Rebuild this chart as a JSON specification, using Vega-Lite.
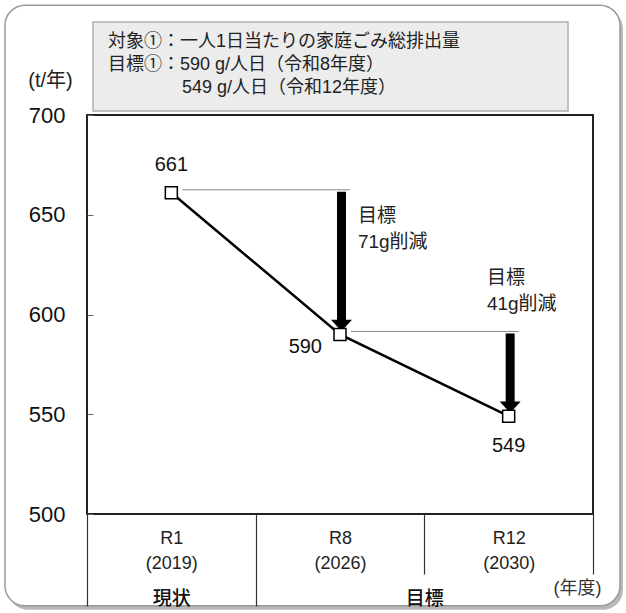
{
  "$schema": "https://vega.github.io/schema/vega-lite/v6.json",
  "width": 506,
  "height": 399,
  "autosize": {"type": "none"},
  "padding": {"left": 87, "top": 115, "right": 33, "bottom": 99},
  "background": "white",
  "config": {"view": {"stroke": null}},
  "datasets": {
    "pts": [
      {"year": "R1", "x": 1, "v": 661},
      {"year": "R8", "x": 2, "v": 590},
      {"year": "R12", "x": 3, "v": 549}
    ],
    "arrows": [
      {"x0": 1, "x": 2, "from": 661, "to": 590},
      {"x0": 2, "x": 3, "from": 590, "to": 549}
    ]
  },
  "data": {"name": "pts"},
  "resolve": {"axis": {"x": "independent", "y": "independent"}},
  "layer": [
    {
      "data": {"values": [{}]},
      "mark": {"type": "rect", "fill": "#b8b8b8", "cornerRadius": 20, "xOffset": 3, "x2Offset": 3, "yOffset": 4, "y2Offset": 4, "clip": false},
      "encoding": {
        "x": {"datum": 0.0138, "type": "quantitative", "scale": {"domain": [0.5, 3.5], "nice": false, "zero": false}, "axis": null},
        "x2": {"datum": 3.66},
        "y": {"datum": 755, "type": "quantitative", "scale": {"domain": [500, 700], "nice": false, "zero": false}, "axis": null},
        "y2": {"datum": 454}
      }
    },
    {
      "data": {"values": [{}]},
      "mark": {"type": "rect", "fill": "white", "stroke": "#9a9a9a", "strokeWidth": 1.5, "cornerRadius": 20, "clip": false},
      "encoding": {
        "x": {"datum": 0.0138, "type": "quantitative", "scale": {"domain": [0.5, 3.5], "nice": false, "zero": false}, "axis": null},
        "x2": {"datum": 3.66},
        "y": {"datum": 755, "type": "quantitative", "scale": {"domain": [500, 700], "nice": false, "zero": false}, "axis": null},
        "y2": {"datum": 454}
      }
    },
    {
      "data": {"values": [{}]},
      "mark": {"type": "rect", "fill": "#ececec", "stroke": "#b0b0b0", "strokeWidth": 1.5, "clip": false},
      "encoding": {
        "x": {"datum": 0.5356, "type": "quantitative", "scale": {"domain": [0.5, 3.5], "nice": false, "zero": false}, "axis": null},
        "x2": {"datum": 3.352},
        "y": {"datum": 746.6, "type": "quantitative", "scale": {"domain": [500, 700], "nice": false, "zero": false}, "axis": null},
        "y2": {"datum": 702}
      }
    },
    {
      "data": {"values": [{"t": ["対象①：一人1日当たりの家庭ごみ総排出量", "目標①：590 g/人日（令和8年度）"]}]},
      "mark": {"type": "text", "align": "left", "baseline": "middle", "fontSize": 18, "lineHeight": 23, "color": "#222", "font": "Liberation Sans, Noto Sans CJK JP, sans-serif", "clip": false},
      "encoding": {
        "x": {"datum": 0.6245, "type": "quantitative", "scale": {"domain": [0.5, 3.5], "nice": false, "zero": false}, "axis": null},
        "y": {"datum": 736.6, "type": "quantitative", "scale": {"domain": [500, 700], "nice": false, "zero": false}, "axis": null},
        "text": {"field": "t"}
      }
    },
    {
      "data": {"values": [{"t": "549 g/人日（令和12年度）"}]},
      "mark": {"type": "text", "align": "left", "baseline": "middle", "fontSize": 18, "color": "#222", "font": "Liberation Sans, Noto Sans CJK JP, sans-serif", "clip": false},
      "encoding": {
        "x": {"datum": 1.063, "type": "quantitative", "scale": {"domain": [0.5, 3.5], "nice": false, "zero": false}, "axis": null},
        "y": {"datum": 713.5, "type": "quantitative", "scale": {"domain": [500, 700], "nice": false, "zero": false}, "axis": null},
        "text": {"field": "t"}
      }
    },
    {
      "data": {"values": [{}]},
      "mark": {"type": "rect", "filled": false, "stroke": "#222", "strokeWidth": 2, "clip": false},
      "encoding": {
        "x": {"datum": 0.5, "type": "quantitative", "scale": {"domain": [0.5, 3.5], "nice": false, "zero": false}, "axis": null},
        "x2": {"datum": 3.5},
        "y": {"datum": 700, "type": "quantitative", "scale": {"domain": [500, 700], "nice": false, "zero": false}, "axis": null},
        "y2": {"datum": 500}
      }
    },
    {
      "data": {"name": "arrows"},
      "mark": {"type": "rule", "color": "#888", "strokeWidth": 1, "xOffset": 11, "x2Offset": 10, "yOffset": -3},
      "encoding": {
        "x": {"field": "x0", "type": "quantitative", "scale": {"domain": [0.5, 3.5], "nice": false, "zero": false}, "axis": null},
        "x2": {"field": "x"},
        "y": {"field": "from", "type": "quantitative", "scale": {"domain": [500, 700], "nice": false, "zero": false}, "axis": null}
      }
    },
    {
      "mark": {"type": "line", "color": "#000", "strokeWidth": 2.5},
      "encoding": {
        "x": {
          "field": "x", "type": "quantitative",
          "scale": {"domain": [0.5, 3.5], "nice": false, "zero": false},
          "axis": {
            "orient": "bottom", "values": [1, 2, 3],
            "labelExpr": "datum.value == 1 ? ['R1','(2019)'] : datum.value == 2 ? ['R8','(2026)'] : ['R12','(2030)']",
            "labelFontSize": 18, "labelLineHeight": 25, "labelPadding": 15,
            "labelFont": "Liberation Sans, Noto Sans CJK JP, sans-serif",
            "labelColor": "#222", "labelFlush": false, "labelOverlap": false,
            "ticks": false, "domain": false, "grid": false, "title": null, "zindex": 1
          }
        },
        "y": {
          "field": "v", "type": "quantitative",
          "scale": {"domain": [500, 700], "nice": false, "zero": false},
          "axis": {
            "orient": "left",
            "values": [500, 550, 600, 650, 700],
            "title": "(t/年)", "titleAngle": 0, "titleX": -37, "titleY": -35,
            "titleAlign": "center", "titleBaseline": "middle", "titleFontSize": 20,
            "titleFontWeight": "normal", "titleColor": "#222",
            "titleFont": "Liberation Sans, Noto Sans CJK JP, sans-serif",
            "labelFontSize": 22, "labelColor": "#111", "labelPadding": 28,
            "labelFont": "Liberation Sans, Noto Sans CJK JP, sans-serif",
            "tickSize": -6, "tickColor": "#666", "tickWidth": 1,
            "domain": false, "grid": false, "zindex": 1
          }
        }
      }
    },
    {
      "data": {"name": "arrows"},
      "mark": {"type": "rule", "color": "#000", "strokeWidth": 9, "strokeCap": "butt", "xOffset": 1.5, "x2Offset": 1.5, "yOffset": -1, "y2Offset": -14},
      "encoding": {
        "x": {"field": "x", "type": "quantitative", "scale": {"domain": [0.5, 3.5], "nice": false, "zero": false}, "axis": null},
        "y": {"field": "from", "type": "quantitative", "scale": {"domain": [500, 700], "nice": false, "zero": false}, "axis": null},
        "y2": {"field": "to"}
      }
    },
    {
      "data": {"name": "arrows"},
      "mark": {"type": "point", "shape": "M-1,-0.55L1,-0.55L0,0.55Z", "size": 441, "filled": true, "color": "#000", "opacity": 1, "strokeWidth": 0, "xOffset": 1.5, "yOffset": -9},
      "encoding": {
        "x": {"field": "x", "type": "quantitative", "scale": {"domain": [0.5, 3.5], "nice": false, "zero": false}, "axis": null},
        "y": {"field": "to", "type": "quantitative", "scale": {"domain": [500, 700], "nice": false, "zero": false}, "axis": null}
      }
    },
    {
      "mark": {"type": "point", "shape": "square", "size": 144, "filled": true, "fill": "white", "stroke": "#000", "strokeWidth": 1.5, "opacity": 1},
      "encoding": {
        "x": {
          "field": "x", "type": "quantitative",
          "scale": {"domain": [0.5, 3.5], "nice": false, "zero": false},
          "axis": {
            "orient": "bottom", "values": [0.5, 1.5, 2.5, 3.5],
            "labels": false, "ticks": true, "tickColor": "#333", "tickWidth": 1.2,
            "tickSize": {"condition": {"test": "datum.value > 2", "value": 60}, "value": 92},
            "domain": false, "grid": false, "title": null, "zindex": 1
          }
        },
        "y": {"field": "v", "type": "quantitative", "scale": {"domain": [500, 700], "nice": false, "zero": false}, "axis": null}
      }
    },
    {
      "data": {"values": [{}]},
      "mark": {"type": "text", "align": "left", "baseline": "middle", "fontSize": 19, "lineHeight": 26, "color": "#222", "font": "Liberation Sans, Noto Sans CJK JP, sans-serif"},
      "encoding": {
        "x": {"datum": 2.106, "type": "quantitative", "scale": {"domain": [0.5, 3.5], "nice": false, "zero": false}, "axis": null},
        "y": {"datum": 649.4, "type": "quantitative", "scale": {"domain": [500, 700], "nice": false, "zero": false}, "axis": null},
        "text": {"value": ["目標", "71g削減"]}
      }
    },
    {
      "data": {"values": [{}]},
      "mark": {"type": "text", "align": "left", "baseline": "middle", "fontSize": 19, "lineHeight": 26, "color": "#222", "font": "Liberation Sans, Noto Sans CJK JP, sans-serif"},
      "encoding": {
        "x": {"datum": 2.871, "type": "quantitative", "scale": {"domain": [0.5, 3.5], "nice": false, "zero": false}, "axis": null},
        "y": {"datum": 618.3, "type": "quantitative", "scale": {"domain": [500, 700], "nice": false, "zero": false}, "axis": null},
        "text": {"value": ["目標", "41g削減"]}
      }
    },
    {
      "transform": [{"filter": "datum.x == 1"}],
      "mark": {"type": "text", "align": "center", "baseline": "middle", "fontSize": 20, "dy": -28, "color": "#111", "font": "Liberation Sans, Noto Sans CJK JP, sans-serif"},
      "encoding": {
        "x": {
          "field": "x", "type": "quantitative",
          "scale": {"domain": [0.5, 3.5], "nice": false, "zero": false},
          "axis": {
            "orient": "bottom", "values": [1, 2.5],
            "labelExpr": "datum.value == 1 ? '現状' : '目標'",
            "labelFontSize": 19, "labelPadding": 75, "labelColor": "#111",
            "labelFont": "Noto Sans CJK JP, sans-serif", "labelFontWeight": 500,
            "labelFlush": false, "labelOverlap": false,
            "ticks": false, "domain": false, "grid": false,
            "title": "(年度)", "titleX": 490, "titleY": 74, "titleAlign": "center",
            "titleBaseline": "middle", "titleFontSize": 18, "titleFontWeight": "normal",
            "titleColor": "#333", "titleFont": "Liberation Sans, Noto Sans CJK JP, sans-serif", "zindex": 1
          }
        },
        "y": {"field": "v", "type": "quantitative", "scale": {"domain": [500, 700], "nice": false, "zero": false}, "axis": null},
        "text": {"field": "v"}
      }
    },
    {
      "transform": [{"filter": "datum.x == 2"}],
      "mark": {"type": "text", "align": "right", "baseline": "middle", "fontSize": 20, "dx": -18, "dy": 13, "color": "#111", "font": "Liberation Sans, Noto Sans CJK JP, sans-serif"},
      "encoding": {
        "x": {"field": "x", "type": "quantitative", "scale": {"domain": [0.5, 3.5], "nice": false, "zero": false}, "axis": null},
        "y": {"field": "v", "type": "quantitative", "scale": {"domain": [500, 700], "nice": false, "zero": false}, "axis": null},
        "text": {"field": "v"}
      }
    },
    {
      "transform": [{"filter": "datum.x == 3"}],
      "mark": {"type": "text", "align": "center", "baseline": "middle", "fontSize": 20, "dy": 30, "color": "#111", "font": "Liberation Sans, Noto Sans CJK JP, sans-serif"},
      "encoding": {
        "x": {"field": "x", "type": "quantitative", "scale": {"domain": [0.5, 3.5], "nice": false, "zero": false}, "axis": null},
        "y": {"field": "v", "type": "quantitative", "scale": {"domain": [500, 700], "nice": false, "zero": false}, "axis": null},
        "text": {"field": "v"}
      }
    }
  ]
}
